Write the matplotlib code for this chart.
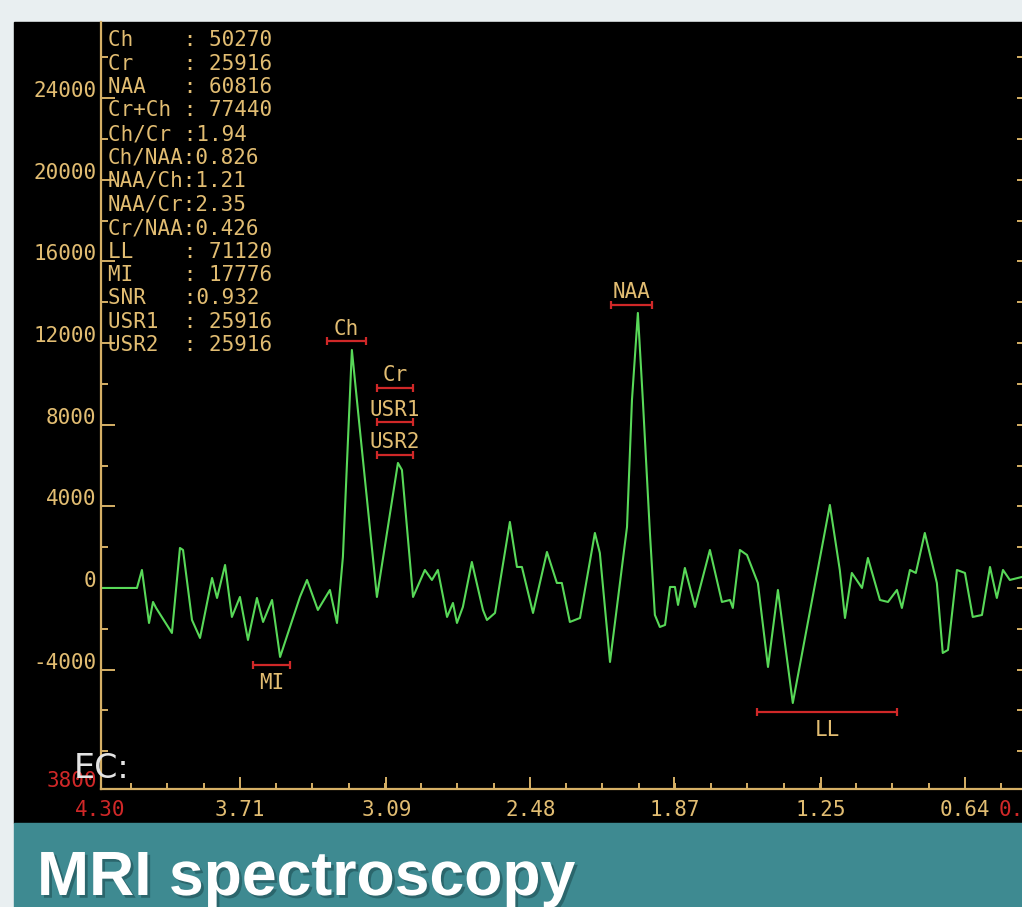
import matplotlib
matplotlib.use("Agg")
import matplotlib.pyplot as plt
import matplotlib.patheffects as pe
from matplotlib.patches import Rectangle
from matplotlib.transforms import ScaledTranslation
import numpy as np

# spectrum (ppm, amplitude)
ppm = [4.300, 4.146, 4.125, 4.095, 4.078, 4.065, 3.998, 3.964, 3.951, 3.913,
       3.879, 3.828, 3.807, 3.773, 3.744, 3.710, 3.676, 3.638, 3.612, 3.574,
       3.540, 3.456, 3.426, 3.380, 3.329, 3.299, 3.274, 3.236, 3.202, 3.130,
       3.041, 3.024, 2.977, 2.927, 2.897, 2.872, 2.833, 2.808, 2.791, 2.766,
       2.728, 2.681, 2.664, 2.630, 2.567, 2.537, 2.516, 2.469, 2.410, 2.368,
       2.347, 2.313, 2.270, 2.207, 2.186, 2.143, 2.071, 2.050, 2.025, 2.004,
       1.974, 1.953, 1.932, 1.910, 1.889, 1.868, 1.855, 1.826, 1.783, 1.720,
       1.669, 1.635, 1.623, 1.593, 1.563, 1.517, 1.474, 1.432, 1.369, 1.212,
       1.170, 1.148, 1.119, 1.076, 1.051, 1.000, 0.966, 0.928, 0.907, 0.873,
       0.848, 0.810, 0.759, 0.734, 0.712, 0.674, 0.640, 0.607, 0.568, 0.534,
       0.505, 0.479, 0.450, 0.399]
amp = [0, 0, 882, -1715, -686, -980, -2205, 1960, 1862, -1568,
       -2450, 490, -490, 1127, -1421, -441, -2548, -490, -1666, -588,
       -3381, -441, 392, -1078, -98, -1715, 1519, 11662, 7742, -441,
       6125, 5782, -441, 882, 392, 882, -1421, -735, -1715, -931,
       1274, -1078, -1568, -1225, 3234, 1029, 1029, -1225, 1764, 245,
       245, -1666, -1470, 2695, 1715, -3626, 2989, 9212, 13475, 9212,
       2695, -1323, -1911, -1813, 49, 49, -833, 980, -931, 1862,
       -686, -588, -980, 1862, 1617, 245, -3871, -98, -5635, 4067,
       882, -1470, 735, 0, 1470, -588, -686, -98, -980, 882,
       735, 2695, 245, -3185, -3038, 882, 735, -1421, -1323, 1029,
       -490, 882, 392, 539]

# integration windows
reg_names = ["MI", "Ch", "Cr", "USR1", "USR2", "NAA", "LL"]
reg_lo = [3.655, 3.342, 3.130, 3.130, 3.130, 2.139, 1.521]
reg_hi = [3.498, 3.176, 2.977, 2.977, 2.977, 1.965, 0.928]
reg_y = [-3770, 12100, 9800, 8130, 6520, 13870, -6080]

# results table
res_names = ["Ch", "Cr", "NAA", "Cr+Ch", "Ch/Cr", "Ch/NAA", "NAA/Ch",
             "NAA/Cr", "Cr/NAA", "LL", "MI", "SNR", "USR1", "USR2"]
res_values = [" 50270", " 25916", " 60816", " 77440", "1.94", "0.826", "1.21",
              "2.35", "0.426", " 71120", " 17776", "0.932", " 25916", " 25916"]

xtick_vals = [4.30, 3.71, 3.09, 2.48, 1.87, 1.25, 0.64, 0.39]
xtick_text = ["4.30", "3.71", "3.09", "2.48", "1.87", "1.25", "0.64", "0.39"]
ytick_vals = [-4000, 0, 4000, 8000, 12000, 16000, 20000, 24000]

W, H = 1022, 907
def fx(p):
    return p / W
def fy(p):
    return 1 - p / H

TAN = "#e2bd72"
AXC = "#d6b066"
RED = "#d02828"
MONO = "DejaVu Sans Mono"

fig = plt.figure(figsize=(W / 100, H / 100), dpi=100)
fig.patch.set_facecolor("#e9eff1")
fig.add_artist(Rectangle((fx(14), fy(823)), 1, fy(22) - fy(823),
                         transform=fig.transFigure, color="black", zorder=0))
fig.add_artist(Rectangle((fx(14), 0), 1, fy(823),
                         transform=fig.transFigure, color="#3e8a91", zorder=0))

ax = fig.add_axes([fx(100.6), fy(789), (1024 - 100.6) / W, (789 - 22) / H])
ax.set_facecolor("black")
ax.plot(ppm, amp, color="#58d858", lw=1.5)
ax.set_xlim(4.30, 0.39)
ax.set_ylim(-9850, 27730)

for s in ["top", "right"]:
    ax.spines[s].set_visible(False)
for s in ["left", "bottom"]:
    ax.spines[s].set_color(AXC)
    ax.spines[s].set_linewidth(1.6)

# x axis
ax.set_xticks(xtick_vals)
ax.set_xticklabels(xtick_text)
step = (3.71 - 0.64) / 20
minor = [m for m in 0.64 + step * np.arange(-1, 24) if 0.39 < m < 4.30]
ax.set_xticks(minor, minor=True)
ax.tick_params(axis="x", which="major", direction="in", length=9, width=1.4,
               color=AXC, labelcolor=TAN, labelsize=15, pad=8)
ax.tick_params(axis="x", which="minor", direction="in", length=4, width=1.4,
               color=AXC)
for lab in ax.get_xticklabels():
    lab.set_fontfamily(MONO)
labs = ax.get_xticklabels()
labs[0].set_color(RED)
labs[-1].set_color(RED)

# y axis
ax.set_yticks(ytick_vals)
ax.set_yticklabels([str(v) for v in ytick_vals])
ax.set_yticks(np.arange(-8000, 27000, 2000), minor=True)
ax.tick_params(axis="y", which="major", direction="in", length=10, width=1.4,
               color=AXC, labelcolor=TAN, labelsize=15, pad=3)
ax.tick_params(axis="y", which="minor", direction="in", length=5, width=1.4,
               color=AXC)
for lab in ax.get_yticklabels():
    lab.set_fontfamily(MONO)
    lab.set_transform(lab.get_transform() + ScaledTranslation(0, 0.09, fig.dpi_scale_trans))

sec = ax.secondary_yaxis("right")
sec.set_yticks(np.arange(-8000, 27000, 2000))
sec.set_yticklabels([])
sec.tick_params(direction="in", length=5, width=1.4, color=AXC)
sec.spines["right"].set_visible(False)

# integration windows
for name, lo, hi, yv in zip(reg_names, reg_lo, reg_hi, reg_y):
    ax.errorbar((lo + hi) / 2, yv, xerr=abs(hi - lo) / 2, fmt="none",
                ecolor=RED, elinewidth=1.6, capsize=3, capthick=1.6)
    off = 9 if yv > 0 else -13
    ax.annotate(name, xy=((lo + hi) / 2, yv), xytext=(0, off),
                textcoords="offset points", ha="center", va="center",
                color=TAN, fontsize=15, family=MONO)

# results table
for i, (n, v) in enumerate(zip(res_names, res_values)):
    fig.text(fx(108), fy(40 + i * 23.5), f"{n:<6}:{v}", color=TAN,
             fontsize=15, family=MONO, va="center", ha="left")

fig.text(fx(97), fy(781), "3800", color=RED, fontsize=15, family=MONO,
         ha="right", va="center")
fig.text(fx(74), fy(768), "EC:", color="#e4e4e4", fontsize=24,
         family="DejaVu Sans", ha="left", va="center")

fig.text(fx(37), fy(895), "MRI spectroscopy", color="white", fontsize=45,
         weight="bold", family="Liberation Sans", va="baseline",
         path_effects=[pe.withSimplePatchShadow(offset=(2, -2),
                                                shadow_rgbFace="#1f4f54",
                                                alpha=0.6)])

fig.savefig("out.png", dpi=100, facecolor=fig.get_facecolor())
